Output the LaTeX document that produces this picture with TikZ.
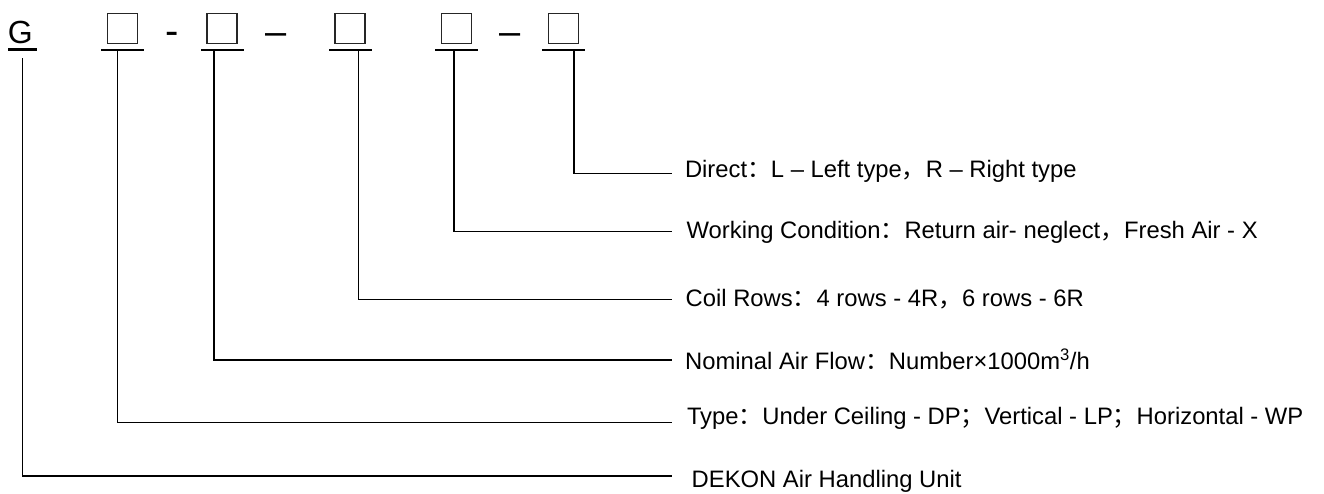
\documentclass[tikz,border=0pt]{standalone}
\usepackage{fontspec}
\setmainfont{Liberation Sans}
\newfontfamily\cjk{Noto Sans CJK SC}
\begin{document}
\begin{tikzpicture}[x=1pt,y=-1pt,
  conn/.style={line width=1.4pt},
  barline/.style={line width=2.8pt},
  sqbox/.style={draw=black!85, line width=1.5pt, minimum width=30pt, minimum height=30pt, inner sep=0pt},
  lbl/.style={anchor=base west, inner sep=0pt, font=\fontsize{23.8}{28}\selectfont},
  sym/.style={anchor=base west, inner sep=0pt}]
\useasboundingbox (0,0) rectangle (1324,493);

% code line
\node[sym, font=\fontsize{32}{36}\selectfont] (G) at (7.8,43) {G};
\draw[barline, line width=3pt] (8,49.2) -- (36.7,49.2);

\node[sqbox] (b1) at (122.3,28.3) {};
\node[sym, font=\fontsize{40}{44}\selectfont] (d1) at (164.9,44.3) {-};
\node[sqbox] (b2) at (222,28.3) {};
\node[sym, font=\fontsize{38}{42}\selectfont] (d2) at (265,44.4) {–};
\node[sqbox] (b3) at (350,28.3) {};
\node[sqbox] (b4) at (456.7,28.3) {};
\node[sym, font=\fontsize{38}{42}\selectfont] (d3) at (499.3,44.4) {–};
\node[sqbox] (b5) at (563.3,28.3) {};

% bars under boxes
\draw[barline] (101,50) -- (144,50);
\draw[barline] (201,50) -- (244,50);
\draw[barline] (329,50) -- (372,50);
\draw[barline] (435,50) -- (477.7,50);
\draw[barline] (542.3,50) -- (584.7,50);

% connector start points
\coordinate (tG) at (22.7,58.3);
\coordinate (t1) at (117.7,50);
\coordinate (t2) at (214,50);
\coordinate (t3) at (358.3,50);
\coordinate (t4) at (454,50);
\coordinate (t5) at (574,50);

% connector end points
\coordinate (e5) at (671.7,173.3);
\coordinate (e4) at (671.7,231.7);
\coordinate (e3) at (671.7,299.3);
\coordinate (e2) at (671.7,360);
\coordinate (e1) at (671.7,422.3);
\coordinate (eG) at (671.7,476);

% labels
\node[lbl] (l5) at (684.8,177.3) {Direct{\cjk ：}L – Left type{\cjk ，}R – Right type};
\node[lbl] (l4) at (686.5,238.3) {Working Condition{\cjk ：}Return air- neglect{\cjk ，}Fresh Air - X};
\node[lbl] (l3) at (685.5,306) {Coil Rows{\cjk ：}4 rows - 4R{\cjk ，}6 rows - 6R};
\node[lbl] (l2) at (685,369.3) {Nominal Air Flow{\cjk ：}Number×1000m\textsuperscript{3}/h};
\node[lbl] (l1) at (686.8,424.3) {Type{\cjk ：}Under Ceiling - DP{\cjk ；}Vertical - LP{\cjk ；}Horizontal - WP};
\node[lbl] (lG) at (691.5,487.3) {DEKON Air Handling Unit};

% connectors
\draw[conn] (t5) |- (e5);
\draw[conn] (t4) |- (e4);
\draw[conn] (t3) |- (e3);
\draw[conn] (t2) |- (e2);
\draw[conn] (t1) |- (e1);
\draw[conn] (tG) |- (eG);
\end{tikzpicture}
\end{document}
